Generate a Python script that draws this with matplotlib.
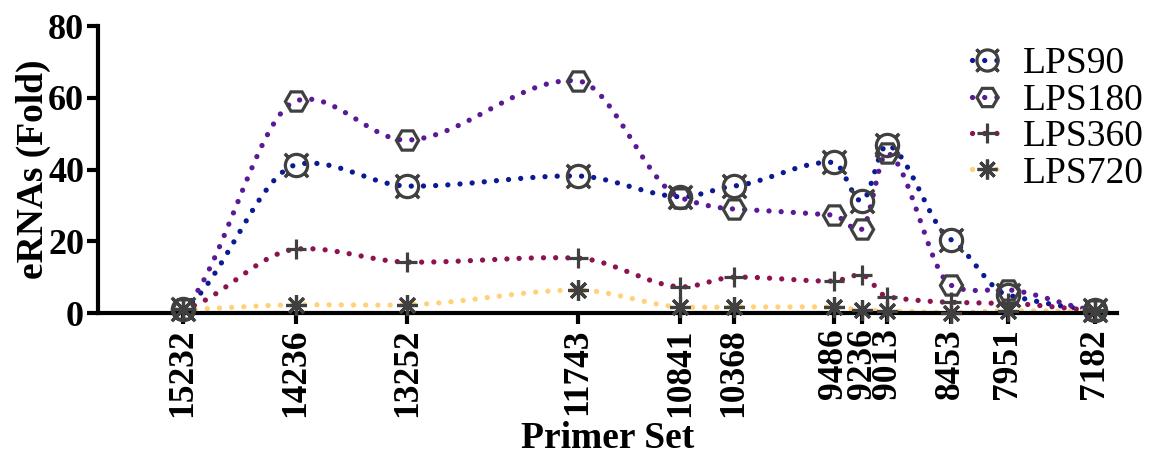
import numpy as np
import matplotlib
matplotlib.use("Agg")
import matplotlib.pyplot as plt
from matplotlib.path import Path
from matplotlib.lines import Line2D

# Primer set positions (x) and fold-change values per LPS time point
primer_sets = [15232, 14236, 13252, 11743, 10841, 10368, 9486, 9236, 9013, 8453, 7951, 7182]
tick_labels = [str(p) for p in primer_sets]

lps90 = [1.0, 41.3, 35.4, 38.2, 32.4, 35.4, 42.0, 31.2, 46.8, 20.5, 5.0, 0.8]
lps180 = [1.0, 59.1, 48.2, 64.7, 32.2, 29.0, 27.3, 23.4, 44.6, 7.8, 6.5, 0.8]
lps360 = [1.0, 17.8, 14.2, 15.3, 7.3, 10.0, 8.9, 10.6, 4.5, 3.0, 2.7, 0.8]
lps720 = [1.0, 2.3, 2.3, 6.4, 1.7, 1.7, 1.7, 0.9, 0.6, 0.1, 0.6, 0.5]

series_names = ["LPS90", "LPS180", "LPS360", "LPS720"]
series_values = [lps90, lps180, lps360, lps720]
line_colors = ["#0a1a92", "#5a1a96", "#8c1250", "#ffd27a"]
marker_color = "#404040"


def circle_with_corners():
    circ = Path.unit_circle()
    verts = list(circ.vertices)
    codes = list(circ.codes)
    for ang in (45, 135, 225, 315):
        a = np.deg2rad(ang)
        c, s = np.cos(a), np.sin(a)
        verts += [(1.0 * c, 1.0 * s), (1.35 * c, 1.35 * s)]
        codes += [Path.MOVETO, Path.LINETO]
        # small end caps on each corner stroke
        px, py = -s, c
        ex, ey = 1.35 * c, 1.35 * s
        verts += [(ex - 0.15 * px, ey - 0.15 * py), (ex + 0.15 * px, ey + 0.15 * py)]
        codes += [Path.MOVETO, Path.LINETO]
    return Path(np.array(verts), codes)


markers = [circle_with_corners(), "H", "+", (8, 2, 0)]
marker_sizes = [17, 16, 15, 15]


def smooth_curve(x, y, tension=0.45, n=40):
    """Cubic Hermite curve through the points with damped Catmull-Rom tangents."""
    x = np.asarray(x, float)
    y = np.asarray(y, float)
    m = np.zeros_like(y)
    m[1:-1] = (y[2:] - y[:-2]) / (x[2:] - x[:-2])
    m[0] = (y[1] - y[0]) / (x[1] - x[0])
    m[-1] = (y[-1] - y[-2]) / (x[-1] - x[-2])
    m *= tension
    xs, ys = [], []
    for i in range(len(x) - 1):
        h = x[i + 1] - x[i]
        t = np.linspace(0, 1, n, endpoint=False)
        h00 = 2 * t**3 - 3 * t**2 + 1
        h10 = t**3 - 2 * t**2 + t
        h01 = -2 * t**3 + 3 * t**2
        h11 = t**3 - t**2
        xs.append(x[i] + t * h)
        ys.append(h00 * y[i] + h10 * h * m[i] + h01 * y[i + 1] + h11 * h * m[i + 1])
    xs.append([x[-1]])
    ys.append([y[-1]])
    return np.concatenate(xs), np.concatenate(ys)


plt.rcParams["font.family"] = ["Liberation Serif", "DejaVu Serif"]

fig = plt.figure(figsize=(11.55, 4.57), dpi=100)
ax = fig.add_axes([0.0848, 0.315, 0.882, 0.628])

dot_style = (0, (0.01, 2.3))
lw = 3.8

handles = []
for name, vals, col, mk, ms in zip(series_names, series_values, line_colors, markers, marker_sizes):
    sx, sy = smooth_curve(primer_sets, vals)
    ax.plot(sx, sy, color=col, lw=lw, linestyle=dot_style, dash_capstyle="round",
            solid_capstyle="round", clip_on=False, zorder=2)
    ax.plot(primer_sets, vals, linestyle="none", marker=mk, ms=ms, mfc="none",
            mec=marker_color, mew=2.3, clip_on=False, zorder=3)
    handles.append(Line2D([], [], color=col, lw=lw, linestyle=dot_style,
                          dash_capstyle="round", marker=mk, ms=ms * 0.95, mfc="none",
                          mec=marker_color, mew=2.3))

ax.set_xlim(15982, 6988)
ax.set_ylim(0, 80)
ax.set_xticks(primer_sets)
ax.set_xticklabels(tick_labels, rotation=90, fontsize=25.5, fontweight="bold")
ax.set_yticks([0, 20, 40, 60, 80])
ax.set_yticklabels(["0", "20", "40", "60", "80"], fontsize=26, fontweight="bold")

for side in ("top", "right"):
    ax.spines[side].set_visible(False)
for side in ("left", "bottom"):
    ax.spines[side].set_linewidth(3)
ax.tick_params(axis="both", direction="out", length=8, width=3)
ax.tick_params(axis="x", pad=3)
ax.tick_params(axis="y", pad=2)

ax.set_ylabel("eRNAs (Fold)", fontsize=27, fontweight="bold")
ax.yaxis.set_label_coords(-0.046, 0.5)
ax.set_xlabel("Primer Set", fontsize=27, fontweight="bold")
ax.xaxis.set_label_coords(0.5, -0.375)

leg = ax.legend(handles, series_names, loc="upper right", bbox_to_anchor=(1.003, 0.93),
                bbox_transform=fig.transFigure, frameon=False, fontsize=27,
                handlelength=0.8, handletextpad=0.55, labelspacing=0.05,
                borderaxespad=0.0, markerscale=1.0)

fig.savefig("out.png", dpi=100)
